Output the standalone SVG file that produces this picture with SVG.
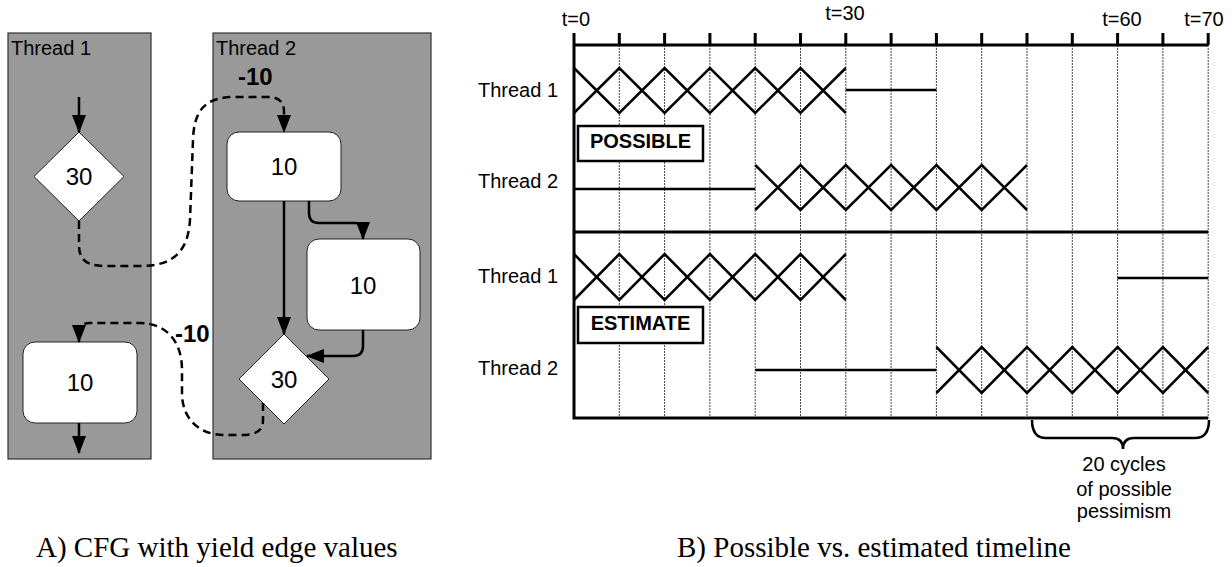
<svg xmlns="http://www.w3.org/2000/svg" width="1232" height="567" viewBox="0 0 1232 567">
<style>
.lbl{font-family:"Liberation Sans",Arial,sans-serif;font-size:20px;fill:#000}
.num{font-family:"Liberation Sans",Arial,sans-serif;font-size:24px;fill:#000;text-anchor:middle}
.yv{font-family:"Liberation Sans",Arial,sans-serif;font-size:24px;font-weight:bold;fill:#000}
.tag{font-family:"Liberation Sans",Arial,sans-serif;font-size:20px;font-weight:bold;fill:#000;text-anchor:middle}
.cap{font-family:"Liberation Serif","Times New Roman",serif;font-size:29px;fill:#000}
.panel{fill:#999999;stroke:#333;stroke-width:1.2}
.node{fill:#fff;stroke:#222;stroke-width:1}
.edge{fill:none;stroke:#000;stroke-width:2.5}
.dash{fill:none;stroke:#000;stroke-width:2.5;stroke-dasharray:8 5}
.ax{fill:none;stroke:#000;stroke-width:3}
.x{fill:none;stroke:#000;stroke-width:2.5}
.grid{fill:none;stroke:#444;stroke-width:1;stroke-dasharray:2 1}
.box{fill:#fff;stroke:#000;stroke-width:2.5}
</style>
<defs>
<marker id="ah" markerUnits="userSpaceOnUse" markerWidth="18" markerHeight="14" viewBox="0 0 18 14" refX="17" refY="7" orient="auto">
<path d="M0,0 L18,7 L0,14 z" fill="#000" stroke="none"/>
</marker>
</defs>

<!-- Panel A -->
<g id="thread1-lane">
<rect class="panel" x="8" y="33" width="143" height="426"/>
<text class="lbl" x="11" y="55">Thread 1</text>
</g>
<g id="thread2-lane">
<rect class="panel" x="213" y="33" width="218" height="426"/>
<text class="lbl" x="216" y="55">Thread 2</text>
</g>

<g id="t1-decision">
<polygon class="node" points="79,132 124,176.5 79,221 34,176.5"/>
<text class="num" x="79" y="185">30</text>
</g>
<g id="t1-block">
<rect class="node" x="23" y="342" width="114" height="81" rx="12"/>
<text class="num" x="80" y="391">10</text>
</g>
<g id="t2-block1">
<rect class="node" x="227" y="132" width="114" height="69" rx="12"/>
<text class="num" x="284" y="175">10</text>
</g>
<g id="t2-block2">
<rect class="node" x="307" y="239" width="113" height="91" rx="12"/>
<text class="num" x="363" y="294">10</text>
</g>
<g id="t2-decision">
<polygon class="node" points="284,334 329,379 284,424 239,379"/>
<text class="num" x="284" y="388">30</text>
</g>

<g id="connectors">
<path class="edge" d="M79,97 L79,132" marker-end="url(#ah)"/>
<path class="edge" d="M79,423 L79,453" marker-end="url(#ah)"/>
<path class="edge" d="M284,201 L284,334" marker-end="url(#ah)"/>
<path class="edge" d="M309,201 L309,213 Q309,223 319,223 L355,223 Q363,223 363,229 L363,239" marker-end="url(#ah)"/>
<path class="edge" d="M363,330 L363,346 Q363,356 353,356 L307,356" marker-end="url(#ah)"/>
<path class="dash" d="M79,221 L79,245 C79,261 88,266 105,266 L140,266 C175,266 188,250 190,220 L193,140 C194,110 205,97 235,97 L268,97 C280,97 284,103 284,112 L284,132" marker-end="url(#ah)"/>
<path class="dash" d="M263,403 L263,420 C263,432 255,435 240,435 L225,435 C200,435 183,420 182,395 L182,370 C182,340 165,323 140,323 L90,323 C82,323 79,327 79,332 L79,342" marker-end="url(#ah)"/>
<text class="yv" x="238" y="85">-10</text>
<text class="yv" x="175" y="342">-10</text>
</g>

<!-- Panel B -->
<g id="timeline-grid">
<path class="grid" d="M619.3,45V418 M664.6,45V418 M709.9,45V418 M755.2,45V418 M800.5,45V418 M845.8,45V418 M891.1,45V418 M936.4,45V418 M981.7,45V418 M1027,45V418 M1072.3,45V418 M1117.6,45V418 M1162.9,45V418 M1208.2,45V418"/>
</g>
<g id="timeline-axes">
<path class="ax" d="M574,45 H1208.2 M574,232 H1208.2 M574,418 H1208.2 M574,33 V419.5"/>
<path class="ax" d="M619.3,33V45 M664.6,33V45 M709.9,33V45 M755.2,33V45 M800.5,33V45 M845.8,33V45 M891.1,33V45 M936.4,33V45 M981.7,33V45 M1027,33V45 M1072.3,33V45 M1117.6,33V45 M1162.9,33V45 M1208.2,33V45"/>
<text class="lbl" x="576" y="26" text-anchor="middle">t=0</text>
<text class="lbl" x="845" y="20" text-anchor="middle">t=30</text>
<text class="lbl" x="1122" y="26" text-anchor="middle">t=60</text>
<text class="lbl" x="1204" y="26" text-anchor="middle">t=70</text>
</g>

<g id="possible-thread1">
<text class="lbl" x="478" y="97">Thread 1</text>
<polyline class="x" points="574,68 619.3,113 664.6,68 709.9,113 755.2,68 800.5,113 845.8,68"/>
<polyline class="x" points="574,113 619.3,68 664.6,113 709.9,68 755.2,113 800.5,68 845.8,113"/>
<path class="x" d="M845.8,90 H936.4"/>
</g>
<g id="possible-label">
<rect class="box" x="578" y="126" width="125" height="35"/>
<text class="tag" x="640.5" y="148">POSSIBLE</text>
</g>
<g id="possible-thread2">
<text class="lbl" x="478" y="188">Thread 2</text>
<path class="x" d="M574,189 H755.2"/>
<polyline class="x" points="755.2,165 800.5,210 845.8,165 891.1,210 936.4,165 981.7,210 1027,165"/>
<polyline class="x" points="755.2,210 800.5,165 845.8,210 891.1,165 936.4,210 981.7,165 1027,210"/>
</g>

<g id="estimate-thread1">
<text class="lbl" x="478" y="283">Thread 1</text>
<polyline class="x" points="574,254 619.3,300 664.6,254 709.9,300 755.2,254 800.5,300 845.8,254"/>
<polyline class="x" points="574,300 619.3,254 664.6,300 709.9,254 755.2,300 800.5,254 845.8,300"/>
<path class="x" d="M1117.6,278 H1208.2"/>
</g>
<g id="estimate-label">
<rect class="box" x="578" y="307" width="125" height="36"/>
<text class="tag" x="640.5" y="330">ESTIMATE</text>
</g>
<g id="estimate-thread2">
<text class="lbl" x="478" y="375">Thread 2</text>
<path class="x" d="M755.2,370 H936.4"/>
<polyline class="x" points="936.4,347 981.7,393 1027,347 1072.3,393 1117.6,347 1162.9,393 1208.2,347"/>
<polyline class="x" points="936.4,393 981.7,347 1027,393 1072.3,347 1117.6,393 1162.9,347 1208.2,393"/>
</g>

<g id="pessimism-brace">
<path class="edge" d="M1032,420 Q1032,438 1046,438 L1112,438 Q1123,438 1123,449 Q1123,438 1134,438 L1195,438 Q1209,438 1209,420"/>
<text class="lbl" x="1124" y="471" text-anchor="middle">20 cycles</text>
<text class="lbl" x="1124" y="496" text-anchor="middle">of possible</text>
<text class="lbl" x="1124" y="518" text-anchor="middle">pessimism</text>
</g>

<g id="captions">
<text class="cap" x="36" y="557">A) CFG with yield edge values</text>
<text class="cap" x="677" y="557">B) Possible vs. estimated timeline</text>
</g>
</svg>
